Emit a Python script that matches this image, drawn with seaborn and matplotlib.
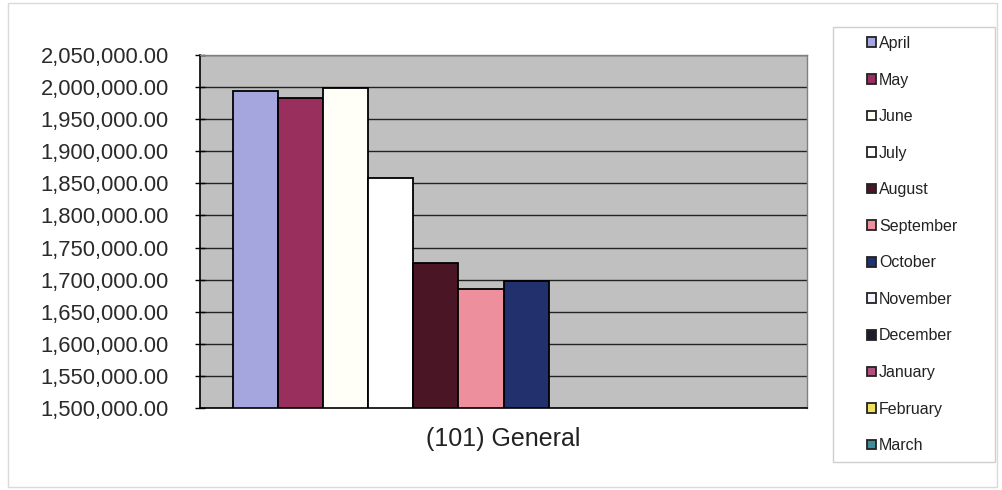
import pandas as pd
import seaborn as sns
from matplotlib import pyplot as plt
from matplotlib.patches import Rectangle
from matplotlib.ticker import FuncFormatter, MultipleLocator

# data
category = "(101) General"
months = ["April", "May", "June", "July", "August", "September",
          "October", "November", "December", "January", "February", "March"]
values = [1993500, 1983500, 1999000, 1858000, 1726500, 1685500,
          1698000, None, None, None, None, None]
month_colors = ["#A6A6DE", "#982F5C", "#FFFFF8", "#FFFFFF", "#4A1626", "#EE8F9E",
                "#22306E", "#F4F4FF", "#1C1C2A", "#B0507E", "#F0E060", "#3F8C9C"]

df = pd.DataFrame({"group": [category] * len(months), "month": months, "value": values})

sns.set_style("white")
plt.rcParams["font.family"] = ["Liberation Sans", "DejaVu Sans"]

fig = plt.figure(figsize=(10.02, 4.9), dpi=100)
ax = fig.add_axes([200 / 1002, 1 - 408 / 490, 607 / 1002, 353 / 490])

sns.barplot(data=df, x="group", y="value", hue="month", hue_order=months,
            palette=month_colors, width=0.89, edgecolor="black", linewidth=1.3,
            saturation=1, ax=ax)

ax.set_facecolor("#C0C0C0")
ax.set_xlim(-0.5, 0.5)
ax.set_ylim(1500000, 2050000)
ax.yaxis.set_major_locator(MultipleLocator(50000))
ax.yaxis.set_major_formatter(FuncFormatter(lambda v, p: f"{v:,.2f}"))
ax.grid(axis="y", color="#222222", linewidth=1.0)
ax.set_axisbelow(True)

for side in ["left", "bottom"]:
    ax.spines[side].set_color("black")
    ax.spines[side].set_linewidth(1.2)
for side in ["top", "right"]:
    ax.spines[side].set_color("#808080")
    ax.spines[side].set_linewidth(1.0)

ax.tick_params(axis="y", direction="inout", length=7, width=1, color="black",
               labelsize=15.8, pad=19, labelcolor="#2a2a2a", left=True)
ax.tick_params(axis="x", length=0, labelsize=18, pad=14, labelcolor="#222222")
ax.set_xlabel("")
ax.set_ylabel("")

# legend on the right, Excel style
handles, labels = ax.get_legend_handles_labels()
if ax.legend_:
    ax.legend_.remove()
leg = fig.legend(handles, labels, loc="upper left",
                 bbox_to_anchor=(867 / 1002, 1 - 36 / 490),
                 frameon=False, fontsize=11.5,
                 handlelength=0.56, handleheight=0.56, handletextpad=0.2,
                 labelspacing=1.35, borderpad=0, borderaxespad=0)
for h in leg.legend_handles:
    h.set_edgecolor("#222222")
    h.set_linewidth(1.3)
for t in leg.get_texts():
    t.set_color("#222222")

# legend box
fig.patches.append(Rectangle((833 / 1002, 1 - 462 / 490), 162 / 1002, 435 / 490,
                             transform=fig.transFigure, fill=False,
                             edgecolor="#CFCFCF", linewidth=1.0))

# outer chart border
fig.patches.append(Rectangle((8 / 1002, 3 / 490), 989 / 1002, 484 / 490,
                             transform=fig.transFigure, fill=False,
                             edgecolor="#DADADA", linewidth=1.0))

plt.savefig("out.png", dpi=100)
